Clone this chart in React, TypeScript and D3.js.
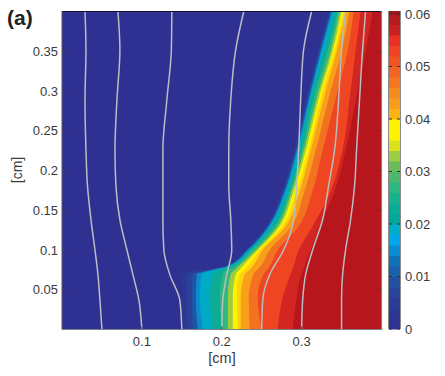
import React from "react";
import * as d3 from "d3";

const xTicks = [0.1, 0.2, 0.3];
const yTicks = [0.05, 0.1, 0.15, 0.2, 0.25, 0.3, 0.35];
const colorbarTicks = [0, 0.01, 0.02, 0.03, 0.04, 0.05, 0.06];

const colorStops = [0, 0.006, 0.01, 0.013, 0.0175, 0.021, 0.026, 0.031, 0.034, 0.036, 0.039, 0.041, 0.045, 0.05, 0.055, 0.058, 0.0595, 0.06];
const colorValues = ["#2e3192", "#2b3f96", "#1f57a4", "#1272b8", "#00aeef", "#00a79d", "#1cb48a", "#6abd5a", "#b5d334", "#fff200", "#fff200", "#fbb316", "#f58a1f", "#f15a24", "#ed3024", "#b7191f", "#b5191e", "#9a171b"];

const levelY = [0, 0.04, 0.07, 0.073, 0.08, 0.1, 0.13, 0.17, 0.22, 0.3, 0.35, 0.4];
const levels = [0.002, 0.005, 0.008, 0.012, 0.0175, 0.021, 0.025, 0.03, 0.036, 0.039, 0.041, 0.045, 0.05, 0.055, 0.058];
const c002 = [0.15, 0.1488, 0.15, 0.16, 0.2038, 0.2288, 0.255, 0.2738, 0.2888, 0.3075, 0.32, 0.3338];
const c005 = [0.1575, 0.1563, 0.1575, 0.17, 0.205, 0.23, 0.2563, 0.275, 0.29, 0.3088, 0.3213, 0.335];
const c008 = [0.1638, 0.1625, 0.1638, 0.1775, 0.2063, 0.2313, 0.2575, 0.2763, 0.2913, 0.31, 0.3225, 0.3363];
const c012 = [0.17, 0.1675, 0.1688, 0.18, 0.2075, 0.2325, 0.2588, 0.2775, 0.2925, 0.3113, 0.3238, 0.3375];
const c016 = [0.1763, 0.1725, 0.175, 0.1825, 0.2088, 0.2338, 0.26, 0.2788, 0.2938, 0.3125, 0.325, 0.3388];
const c020 = [0.1888, 0.185, 0.1888, 0.1925, 0.2125, 0.2356, 0.2625, 0.2813, 0.2963, 0.3138, 0.3288, 0.3413];
const c025 = [0.2, 0.1975, 0.2013, 0.2038, 0.2163, 0.2375, 0.2663, 0.2838, 0.2988, 0.3175, 0.3325, 0.345];
const c030 = [0.2075, 0.2075, 0.2113, 0.2138, 0.2213, 0.2425, 0.27, 0.2863, 0.3013, 0.3213, 0.3363, 0.3475];
const c036 = [0.2138, 0.2138, 0.2175, 0.22, 0.2263, 0.245, 0.2725, 0.2888, 0.3038, 0.3238, 0.3388, 0.35];
const c039 = [0.22, 0.2188, 0.2225, 0.2263, 0.2325, 0.2475, 0.2763, 0.2925, 0.3075, 0.3263, 0.3413, 0.3525];
const c041 = [0.2238, 0.2238, 0.2288, 0.2325, 0.2388, 0.2513, 0.28, 0.2963, 0.31, 0.33, 0.3438, 0.355];
const c045 = [0.235, 0.2338, 0.24, 0.2425, 0.2488, 0.26, 0.2875, 0.3025, 0.3163, 0.3363, 0.35, 0.36];
const c050 = [0.25, 0.245, 0.2525, 0.255, 0.26, 0.27, 0.2963, 0.3125, 0.325, 0.345, 0.3575, 0.365];
const c055 = [0.27, 0.2763, 0.2863, 0.2875, 0.29, 0.2963, 0.3138, 0.335, 0.35, 0.3613, 0.3675, 0.3738];
const c058 = [0.2888, 0.2938, 0.3, 0.3013, 0.3038, 0.3113, 0.3225, 0.34, 0.3538, 0.37, 0.38, 0.3888];
const contours = [c002, c005, c008, c012, c016, c020, c025, c030, c036, c039, c041, c045, c050, c055, c058];

const streamY = [0, 0.037, 0.069, 0.1, 0.138, 0.181, 0.226, 0.289, 0.352, 0.4];
const s1 = [0.05, 0.0475, 0.045, 0.0413, 0.0363, 0.0319, 0.03, 0.0288, 0.03, 0.0288];
const s2 = [0.1, 0.0963, 0.0888, 0.0813, 0.0725, 0.0675, 0.0663, 0.0688, 0.0725, 0.07];
const s3 = [0.15, 0.1475, 0.135, 0.1275, 0.1263, 0.1263, 0.1263, 0.1313, 0.1369, 0.1375];
const s4 = [0.2, 0.2013, 0.2063, 0.2125, 0.2113, 0.2088, 0.2088, 0.2113, 0.2175, 0.2275];
const s5 = [0.25, 0.2513, 0.26, 0.2775, 0.29, 0.2938, 0.2963, 0.2988, 0.3025, 0.3125];
const s6 = [0.3, 0.3013, 0.305, 0.3138, 0.3263, 0.3338, 0.3413, 0.3463, 0.35, 0.355];
const s7 = [0.35, 0.35, 0.3513, 0.355, 0.3613, 0.3663, 0.3688, 0.3725, 0.3763, 0.38];
const streams = [s1, s2, s3, s4, s5, s6, s7];

const FONT = "'Liberation Sans', Arial, sans-serif";
const TEXT = "#3a3a3a";

export default function App() {
  const x = d3.scaleLinear().domain([0, 0.4]).range([62, 381.5]);
  const y = d3.scaleLinear().domain([0, 0.4]).range([329.5, 11.5]);
  const cb = d3.scaleLinear().domain([0, 0.06]).range([329, 14]);
  const color = d3.scaleLinear<string>().domain(colorStops).range(colorValues).interpolate(d3.interpolateRgb).clamp(true);

  const band = d3
    .area<number>()
    .y((_, i) => y(levelY[i]))
    .x0((d) => x(d))
    .x1(() => x(0.4) + 6)
    .curve(d3.curveMonotoneY);
  const streamLine = d3
    .line<number>()
    .x((d) => x(d))
    .y((_, i) => y(streamY[i]))
    .curve(d3.curveMonotoneY);

  const cbSteps = d3.range(0, 0.0595, 0.002);

  return (
    <svg width={445} height={376} style={{ position: "absolute", left: 0, top: 0 }} fontFamily={FONT}>
      <defs>
        <clipPath id="plot">
          <rect x={x(0)} y={y(0.4)} width={x(0.4) - x(0)} height={y(0) - y(0.4)} />
        </clipPath>
        <filter id="soft" x="-5%" y="-5%" width="110%" height="110%">
          <feGaussianBlur stdDeviation={0.7} />
        </filter>
      </defs>
      <g clipPath="url(#plot)">
        <rect x={x(0) - 6} y={y(0.4) - 6} width={x(0.4) - x(0) + 12} height={y(0) - y(0.4) + 12} fill={color(0)} />
        <g filter="url(#soft)">
          {contours.map((c, i) => (
            <path key={i} d={band(c) ?? ""} fill={color((levels[i] + (levels[i + 1] ?? 0.06)) / 2)} />
          ))}
        </g>
        {streams.map((s, i) => (
          <path key={i} d={streamLine(s) ?? ""} fill="none" stroke="#bcbcc4" strokeWidth={1.5} />
        ))}
      </g>

      {/* frame */}
      <line x1={x(0)} x2={x(0.4)} y1={y(0.4)} y2={y(0.4)} stroke="#15152a" strokeWidth={1} />
      <line x1={x(0)} x2={x(0)} y1={y(0.4)} y2={y(0)} stroke="#55556a" strokeWidth={1} />
      <line x1={x(0)} x2={x(0.4)} y1={y(0)} y2={y(0)} stroke="#808086" strokeWidth={1.2} />
      <line x1={x(0.4)} x2={x(0.4)} y1={y(0.4)} y2={y(0)} stroke="#808086" strokeWidth={1.2} />
      {xTicks.map((t) => (
        <g key={t}>
          <line x1={x(t)} x2={x(t)} y1={y(0)} y2={y(0) - 3} stroke="#444" />
          <line x1={x(t)} x2={x(t)} y1={y(0.4)} y2={y(0.4) + 3} stroke="#444" />
          <text x={x(t)} y={346} textAnchor="middle" fontSize={13} fill={TEXT}>{t}</text>
        </g>
      ))}
      {yTicks.map((t) => (
        <g key={t}>
          <line x1={x(0)} x2={x(0) + 3} y1={y(t)} y2={y(t)} stroke="#444" />
          <line x1={x(0.4)} x2={x(0.4) - 3} y1={y(t)} y2={y(t)} stroke="#444" />
          <text x={58} y={y(t) + 4.5} textAnchor="end" fontSize={13} fill={TEXT}>{t}</text>
        </g>
      ))}
      <text x={222} y={363} textAnchor="middle" fontSize={14.5} fill={TEXT}>[cm]</text>
      <text transform="translate(22,170) rotate(-90)" textAnchor="middle" fontSize={14} fill={TEXT}>[cm]</text>
      <text x={7} y={25} fontSize={21} fontWeight="bold" fill="#222">(a)</text>

      {/* colorbar */}
      {cbSteps.map((v) => (
        <rect
          key={v}
          x={389}
          width={11}
          y={cb(v + 0.002)}
          height={cb(v) - cb(v + 0.002) + 0.5}
          fill={color(v + 0.001)}
        />
      ))}
      <rect x={389} y={11} width={11} height={4} fill={color(0.06)} />
      <line x1={388.5} x2={388.5} y1={11} y2={329} stroke="#8a8a8a" />
      <line x1={400.5} x2={400.5} y1={11} y2={329} stroke="#8a8a8a" />
      {colorbarTicks.map((t) => (
        <g key={t}>
          <line x1={389} x2={392} y1={cb(t)} y2={cb(t)} stroke="#333" />
          <line x1={397} x2={400} y1={cb(t)} y2={cb(t)} stroke="#333" />
          <text x={405} y={cb(t) + 4.5} fontSize={13} fill={TEXT}>{t}</text>
        </g>
      ))}
    </svg>
  );
}
